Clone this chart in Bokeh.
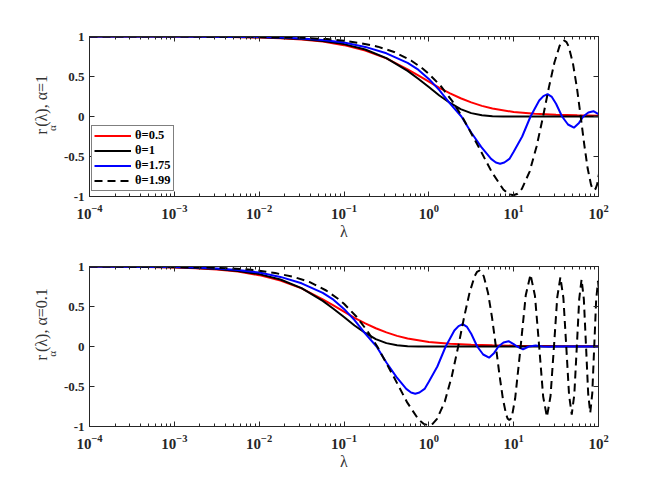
import math
from bokeh.plotting import figure
from bokeh.models import Range1d, FixedTicker, LinearAxis, LogAxis
from bokeh.core.properties import value
from bokeh.layouts import column, row
from bokeh.embed import file_html
from bokeh.resources import INLINE

# ---------------- data ----------------
theta_labels = ["θ=0.5", "θ=1", "θ=1.75", "θ=1.99"]
x_ticks = [1e-4, 1e-3, 1e-2, 1e-1, 1e0, 1e1, 1e2]
y_ticks = [-1, -0.5, 0, 0.5, 1]
y_tick_labels = ["-1", "-0.5", "0", "0.5", "1"]
ylabel_rest = ["(λ), α=1", "(λ), α=0.1"]

# ---- upper panel, alpha = 1 ----
lam_red_a1 = [1e-4, 1e-3, 3.16e-3, 0.01, 0.0178, 0.0316, 0.0562, 0.1, 0.178, 0.316, 0.562, 0.75,
              1.0, 1.33, 1.78, 2.37, 3.16, 4.22, 5.62, 10, 17.8, 31.6, 56.2, 100]
r_red_a1 = [1.0, 0.999, 0.996, 0.988, 0.979, 0.963, 0.936, 0.892, 0.825, 0.727, 0.59, 0.515,
            0.435, 0.358, 0.289, 0.228, 0.176, 0.133, 0.10, 0.056, 0.035, 0.022, 0.015, 0.01]

lam_black_a1 = [1e-4, 1e-3, 3.16e-3, 0.01, 0.0178, 0.0316, 0.0562, 0.1, 0.178, 0.316, 0.562, 0.75,
                1.0, 1.33, 1.78, 2.37, 3.16, 4.22, 5.62, 7.5, 10, 100]
r_black_a1 = [1.0, 0.999, 0.997, 0.990, 0.982, 0.969, 0.945, 0.905, 0.837, 0.729, 0.570, 0.472,
              0.368, 0.263, 0.169, 0.093, 0.042, 0.015, 0.004, 0.001, 0.0, 0.0]

lam_blue_a1 = [1e-4, 1e-3, 3.16e-3, 0.01, 0.0178, 0.0316, 0.0562, 0.1, 0.178, 0.316, 0.562, 0.75,
               1.0, 1.33, 1.78, 2.42, 3.16, 4.14, 5.42, 6.17, 6.92, 7.76, 8.91, 10, 12.6, 15.8,
               20, 22.4, 25.1, 28.2, 31.6, 37.2, 43.7, 51.3, 58.9, 66.1, 75.9, 87.1, 100]
r_blue_a1 = [1.0, 0.9995, 0.998, 0.993, 0.987, 0.976, 0.956, 0.925, 0.87, 0.79, 0.67, 0.585,
             0.47, 0.33, 0.16, 0.0, -0.2, -0.38, -0.53, -0.575, -0.59, -0.575, -0.53, -0.44, -0.25, 0.0,
             0.2, 0.255, 0.28, 0.245, 0.16, 0.0, -0.1, -0.14, -0.08, 0.0, 0.05, 0.066, 0.03]

lam_dash_a1 = [1e-4, 3.16e-4, 1e-3, 3.16e-3, 0.01, 0.0316, 0.0631, 0.1, 0.154, 0.25, 0.39, 0.617,
               0.85, 1.0, 1.388, 1.9, 2.467, 3.855, 5.552, 7.556, 8.674, 9.870, 11.14, 12.49,
               15.42, 18.66, 22.21, 26.06, 30.23, 34.70, 37.05, 39.48, 41.99, 44.57, 49.96,
               55.67, 61.69, 68.01, 74.64, 81.58, 85.16, 88.83, 92.57, 96.38, 104.2]
r_dash_a1 = [1.0, 1.0, 0.9995, 0.998, 0.995, 0.984, 0.968, 0.948, 0.918, 0.873, 0.807, 0.70,
             0.597, 0.534, 0.379, 0.189, 0.0, -0.379, -0.699, -0.912, -0.967, -0.985, -0.965, -0.905,
             -0.689, -0.371, 0.0, 0.367, 0.675, 0.880, 0.933, 0.95, 0.930, 0.873, 0.665,
             0.358, 0.0, -0.355, -0.654, -0.852, -0.904, -0.92, -0.902, -0.848, -0.647]

# ---- lower panel, alpha = 0.1 ----
lam_red_a01 = [1e-4, 3.16e-4, 1e-3, 1.78e-3, 3.16e-3, 5.62e-3, 0.01, 0.0178, 0.0316, 0.0562, 0.075,
               0.1, 0.133, 0.178, 0.237, 0.316, 0.422, 0.562, 1.0, 1.78, 3.16, 5.62, 10, 31.6, 100]
r_red_a01 = [0.999, 0.996, 0.988, 0.979, 0.963, 0.936, 0.892, 0.825, 0.727, 0.59, 0.515,
             0.435, 0.358, 0.289, 0.228, 0.176, 0.133, 0.10, 0.056, 0.035, 0.022, 0.015, 0.01, 0.005, 0.002]

lam_black_a01 = [1e-4, 3.16e-4, 1e-3, 1.78e-3, 3.16e-3, 5.62e-3, 0.01, 0.0178, 0.0316, 0.0562, 0.075,
                 0.1, 0.133, 0.178, 0.237, 0.316, 0.422, 0.562, 0.75, 1.0, 100]
r_black_a01 = [0.999, 0.997, 0.990, 0.982, 0.969, 0.945, 0.905, 0.837, 0.729, 0.570, 0.472,
               0.368, 0.263, 0.169, 0.093, 0.042, 0.015, 0.004, 0.001, 0.0, 0.0]

lam_blue_a01 = [1e-4, 3.16e-4, 1e-3, 1.78e-3, 3.16e-3, 5.62e-3, 0.01, 0.0178, 0.0316, 0.0562, 0.075,
                0.1, 0.133, 0.178, 0.242, 0.316, 0.414, 0.542, 0.617, 0.692, 0.776, 0.891, 1.0, 1.26,
                1.58, 2.0, 2.24, 2.51, 2.82, 3.16, 3.72, 4.37, 5.13, 5.89, 6.61, 7.59, 8.71, 10,
                11.0, 12.9, 15.1, 18.2, 21.9, 26.3, 31.6, 100]
r_blue_a01 = [0.9995, 0.998, 0.993, 0.987, 0.976, 0.956, 0.925, 0.87, 0.79, 0.67, 0.585,
              0.47, 0.33, 0.16, 0.0, -0.2, -0.38, -0.53, -0.575, -0.59, -0.575, -0.53, -0.44, -0.25,
              0.0, 0.2, 0.255, 0.28, 0.245, 0.16, 0.0, -0.1, -0.14, -0.08, 0.0, 0.05, 0.066, 0.03,
              0.0, -0.034, 0.0, 0.012, 0.0, -0.004, 0.0, 0.0]

lam_dash_a01 = [1e-4, 3.16e-4, 1e-3, 3.16e-3, 6.31e-3, 0.01, 0.0154, 0.025, 0.039, 0.0617, 0.085,
                0.1, 0.1388, 0.19, 0.2467, 0.3855, 0.5552, 0.7556, 0.8674, 0.987, 1.114, 1.249,
                1.542, 1.866, 2.221, 2.606, 3.023, 3.470, 3.705, 3.948, 4.199, 4.457, 4.996,
                5.567, 6.169, 6.801, 7.464, 8.158, 8.516, 8.883, 9.257, 9.638,
                10.42, 12.09, 13.88, 15.79, 17.83, 19.99, 22.27, 24.67, 27.20, 29.86,
                32.63, 35.53, 38.55, 41.70, 44.97, 48.36, 51.88, 55.52, 59.28, 63.17,
                67.17, 71.31, 75.56, 79.94, 84.45, 89.07, 93.83, 98.70, 103.7]
r_dash_a01 = [0.9995, 0.998, 0.995, 0.984, 0.968, 0.948, 0.918, 0.873, 0.807, 0.70, 0.597,
              0.534, 0.379, 0.189, 0.0, -0.379, -0.699, -0.912, -0.967, -0.985, -0.965, -0.905,
              -0.689, -0.371, 0.0, 0.367, 0.675, 0.880, 0.933, 0.95, 0.930, 0.873, 0.665,
              0.358, 0.0, -0.355, -0.654, -0.852, -0.904, -0.92, -0.902, -0.848,
              -0.647, 0.0, 0.640, 0.90, 0.633, 0.0, -0.626, -0.88, -0.619, 0.0,
              0.614, 0.865, 0.609, 0.0, -0.605, -0.85, -0.599, 0.0, 0.595, 0.84,
              0.592, 0.0, -0.588, -0.83, -0.585, 0.0, 0.582, 0.82, 0.578]

# ---------------- styling / layout ----------------
FONT = "Liberation Serif"
AX = "#262626"
LAB_W = 60          # width of the strip that carries the rotated y label
MAIN_W = 590
FRAME_W = 512
BORDER_L = 26
colors = ["#ff0000", "#000000", "#0000ff", "#000000"]
dashes = ["solid", "solid", "solid", "8 5"]


def make_fig(height, top, bottom):
    p = figure(width=MAIN_W, height=height, x_axis_type="log",
               x_range=Range1d(1e-4, 1e2), y_range=Range1d(-1, 1),
               output_backend="svg", toolbar_location=None,
               min_border_left=BORDER_L, min_border_right=MAIN_W - BORDER_L - FRAME_W,
               min_border_top=top, min_border_bottom=bottom)
    p.grid.visible = False
    p.outline_line_color = AX
    p.outline_line_width = 1
    p.background_fill_color = "white"
    p.border_fill_color = "white"

    minor = [m * 10.0 ** e for e in range(-4, 2) for m in range(2, 10)]
    xt = FixedTicker(ticks=x_ticks, minor_ticks=minor)
    yt = FixedTicker(ticks=y_ticks)

    xa = p.xaxis[0]
    xa.ticker = xt
    ya = p.yaxis[0]
    ya.ticker = yt
    ya.major_label_overrides = {float(v): s for v, s in zip(y_ticks, y_tick_labels)}

    top_ax = LogAxis(ticker=xt)
    right_ax = LinearAxis(ticker=yt)
    for ax in (top_ax, right_ax):
        ax.major_label_text_font_size = "1px"
        ax.major_label_text_color = None
        ax.major_label_standoff = 0
    p.add_layout(top_ax, "above")
    p.add_layout(right_ax, "right")

    for ax in (xa, ya, top_ax, right_ax):
        ax.axis_line_color = AX
        ax.major_tick_line_color = AX
        ax.major_tick_in = 5
        ax.major_tick_out = 0
        ax.minor_tick_in = 3
        ax.minor_tick_out = 0
    for ax in (ya, right_ax):
        ax.minor_tick_line_color = None
    for ax in (xa, top_ax):
        ax.minor_tick_line_color = AX
    for ax in (xa, ya):
        ax.major_label_text_font = FONT
        ax.major_label_text_font_style = "bold"
        ax.major_label_text_color = AX
    xa.major_label_text_font_size = "15px"
    xa.major_label_standoff = 8
    ya.major_label_text_font_size = "13px"
    ya.major_label_standoff = 5

    xa.axis_label = "λ"
    xa.axis_label_text_font = FONT
    xa.axis_label_text_font_style = "normal"
    xa.axis_label_text_font_size = "16px"
    xa.axis_label_text_color = "#333333"
    xa.axis_label_standoff = 1
    return p


def make_label_strip(height, rest, r_start):
    # narrow strip to the left of a panel, in its own pixel coordinates (r_start measured from top)
    s = figure(width=LAB_W, height=height, x_range=Range1d(0, LAB_W), y_range=Range1d(0, height),
               output_backend="svg", toolbar_location=None,
               x_axis_location=None, y_axis_location=None,
               min_border=0, min_border_left=0, min_border_right=0,
               min_border_top=0, min_border_bottom=0)
    s.grid.visible = False
    s.outline_line_color = None
    s.background_fill_color = "white"
    s.border_fill_color = "white"
    common = dict(angle=math.pi / 2, text_align="left", text_baseline="alphabetic",
                  text_font=value(FONT), text_color="#333333")
    s.text(x=[41], y=[height - r_start], text=["r"], text_font_size="16px", **common)
    s.text(x=[51.5], y=[height - (r_start - 5.5)], text=["α"], text_font_size="11px", **common)
    s.text(x=[41], y=[height - (r_start - 12.0)], text=[rest], text_font_size="16px", **common)
    return s


H1, H2 = 250, 224
p1 = make_fig(H1, 36, 54)
series1 = [(lam_red_a1, r_red_a1), (lam_black_a1, r_black_a1),
           (lam_blue_a1, r_blue_a1), (lam_dash_a1, r_dash_a1)]
for (lx, ly), c, d, lab in zip(series1, colors, dashes, theta_labels):
    p1.line(lx, ly, line_color=c, line_width=2, line_dash=d, legend_label=lab)

lg = p1.legend[0]
lg.location = (2, 5)
lg.label_text_font = FONT
lg.label_text_font_style = "bold"
lg.label_text_font_size = "12.5px"
lg.label_text_color = "#000000"
lg.glyph_width = 37
lg.glyph_height = 13
lg.label_height = 13
lg.label_standoff = 4
lg.padding = 2
lg.spacing = 0
lg.margin = 0
lg.border_line_color = "#000000"
lg.border_line_width = 1
lg.background_fill_alpha = 1.0

p2 = make_fig(H2, 16, 48)
series2 = [(lam_red_a01, r_red_a01), (lam_black_a01, r_black_a01),
           (lam_blue_a01, r_blue_a01), (lam_dash_a01, r_dash_a01)]
for (lx, ly), c, d in zip(series2, colors, dashes):
    p2.line(lx, ly, line_color=c, line_width=2, line_dash=d)

s1 = make_label_strip(H1, ylabel_rest[0], 153)
s2 = make_label_strip(H2, ylabel_rest[1], 131.7)

layout = column(row(s1, p1, spacing=0), row(s2, p2, spacing=0), spacing=0)
open("out.html", "w").write(file_html(layout, INLINE))
